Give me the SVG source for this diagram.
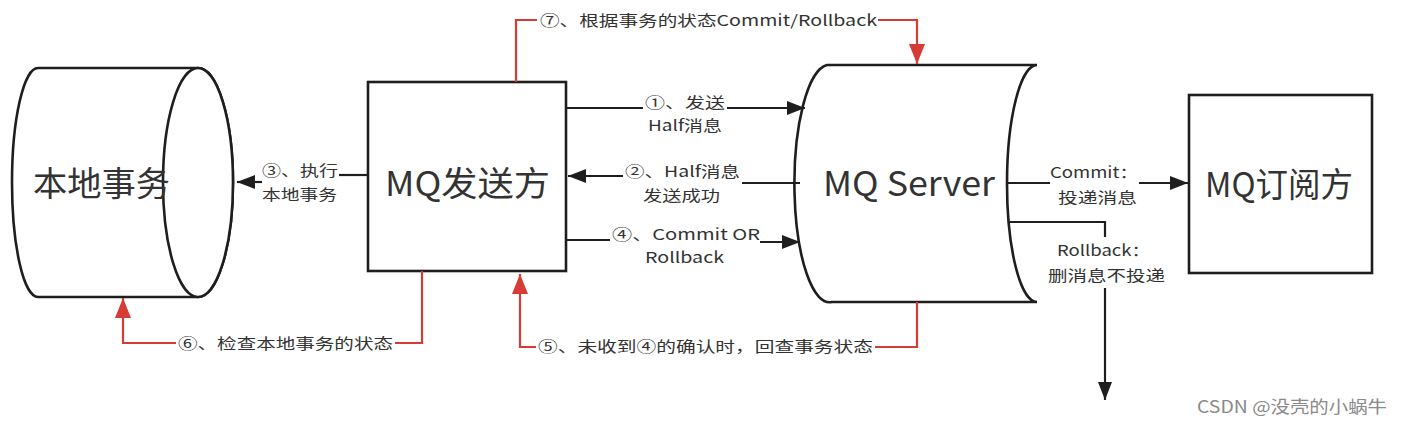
<svg xmlns="http://www.w3.org/2000/svg" width="1403" height="424" viewBox="0 0 1403 424">
<style>
.shape{fill:#fff;stroke:#1e1e1e;stroke-width:2.6}
.ln{fill:none;stroke:#1e1e1e;stroke-width:2.2}
.red{fill:none;stroke:#d63b35;stroke-width:2.2}
text{font-family:"Noto Sans CJK SC","Noto Sans",sans-serif;fill:#333}
.big{font-size:34px}
.lbl{font-size:15px}
.wm{font-size:17px;fill:#8a8a8a}
</style>
<defs>
<marker id="ab" markerUnits="userSpaceOnUse" markerWidth="20" markerHeight="14" refX="18" refY="7" orient="auto"><path d="M0,0 L18,7 L0,14 Z" fill="#1e1e1e"/></marker>
<marker id="ar" markerUnits="userSpaceOnUse" markerWidth="22" markerHeight="16" refX="20" refY="8" orient="auto"><path d="M0,0 L20,8 L0,16 Z" fill="#d63b35"/></marker>
</defs>
<rect width="1403" height="424" fill="#fff"/>
<g id="local-tx">
<path class="shape" d="M38,68 L198,68 A35,114.5 0 0 1 198,297 L38,297 A26,114.5 0 0 1 38,68 Z"/>
<ellipse class="shape" cx="198" cy="182.5" rx="35" ry="114.5" fill="none"/>
<text class="big" x="33" y="196" textLength="137" lengthAdjust="spacingAndGlyphs">本地事务</text>
</g>
<g id="mq-producer">
<rect class="shape" x="368" y="82" width="198" height="189"/>
<text class="big" x="385" y="196" textLength="165" lengthAdjust="spacingAndGlyphs">MQ发送方</text>
</g>
<g id="mq-server">
<path class="shape" d="M827,65 L1037,65 A30,118.5 0 0 0 1037,302 L832,302 A35,118.5 0 0 1 827,65 Z"/>
<text class="big" x="823" y="196" textLength="172" lengthAdjust="spacingAndGlyphs">MQ Server</text>
</g>
<g id="mq-consumer">
<rect class="shape" x="1189" y="95" width="183" height="178"/>
<text class="big" x="1205" y="197" textLength="148" lengthAdjust="spacingAndGlyphs">MQ订阅方</text>
</g>
<g id="connectors">
<path class="ln" d="M567,108 L643,108"/>
<path class="ln" d="M727,108 L805,108" marker-end="url(#ab)"/>
<text class="lbl" x="645" y="108" textLength="80" lengthAdjust="spacingAndGlyphs">①、发送</text>
<text class="lbl" x="648" y="131" textLength="74" lengthAdjust="spacingAndGlyphs">Half消息</text>
<path class="ln" d="M800,183 L742,183"/>
<path class="ln" d="M623,176 L568,176" marker-end="url(#ab)"/>
<text class="lbl" x="625" y="177" textLength="115" lengthAdjust="spacingAndGlyphs">②、Half消息</text>
<text class="lbl" x="643" y="201" textLength="77" lengthAdjust="spacingAndGlyphs">发送成功</text>
<path class="ln" d="M368,175 L339,175"/>
<path class="ln" d="M262,182 L237,182" marker-end="url(#ab)"/>
<text class="lbl" x="262" y="176" textLength="76" lengthAdjust="spacingAndGlyphs">③、执行</text>
<text class="lbl" x="262" y="200" textLength="75" lengthAdjust="spacingAndGlyphs">本地事务</text>
<path class="ln" d="M567,240 L610,240"/>
<path class="ln" d="M760,242 L800,242" marker-end="url(#ab)"/>
<text class="lbl" x="612" y="240" textLength="148" lengthAdjust="spacingAndGlyphs">④、Commit OR</text>
<text class="lbl" x="645" y="263" textLength="79" lengthAdjust="spacingAndGlyphs">Rollback</text>
<path class="red" d="M516,82 L516,20 L537,20"/>
<path class="red" d="M878,20 L917,20 L917,64" marker-end="url(#ar)"/>
<text class="lbl" x="540" y="26" textLength="337" lengthAdjust="spacingAndGlyphs">⑦、根据事务的状态Commit/Rollback</text>
<path class="red" d="M422,271 L422,343 L395,343"/>
<path class="red" d="M176,343 L123,343 L123,298" marker-end="url(#ar)"/>
<text class="lbl" x="178" y="349" textLength="215" lengthAdjust="spacingAndGlyphs">⑥、检查本地事务的状态</text>
<path class="red" d="M917,302 L917,347 L875,347"/>
<path class="red" d="M536,347 L520,347 L520,274" marker-end="url(#ar)"/>
<text class="lbl" x="538" y="352" textLength="335" lengthAdjust="spacingAndGlyphs">⑤、未收到④的确认时，回查事务状态</text>
<path class="ln" d="M1008,183 L1050,183"/>
<path class="ln" d="M1139,183 L1188,183" marker-end="url(#ab)"/>
<text class="lbl" x="1050" y="178" textLength="88" lengthAdjust="spacingAndGlyphs">Commit：</text>
<text class="lbl" x="1058" y="203" textLength="79" lengthAdjust="spacingAndGlyphs">投递消息</text>
<path class="ln" d="M1008,222 L1105,222 L1105,237"/>
<path class="ln" d="M1105,288 L1105,400" marker-end="url(#ab)"/>
<text class="lbl" x="1057" y="256" textLength="93" lengthAdjust="spacingAndGlyphs">Rollback：</text>
<text class="lbl" x="1048" y="281" textLength="117" lengthAdjust="spacingAndGlyphs">删消息不投递</text>
</g>
<text class="wm" x="1197" y="413" textLength="190" lengthAdjust="spacingAndGlyphs">CSDN @没壳的小蜗牛</text>
</svg>
